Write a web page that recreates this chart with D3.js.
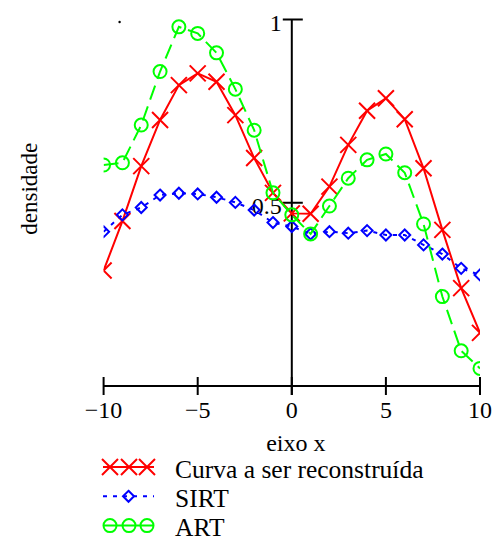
<!DOCTYPE html>
<html>
<head>
<meta charset="utf-8">
<script src="https://cdn.jsdelivr.net/npm/d3@7"></script>
<style>
  html, body { margin: 0; padding: 0; background: #fff; }
  svg { display: block; }
  text { font-family: "Liberation Serif", "Times New Roman", serif; fill: #000; }
</style>
</head>
<body>
<svg id="chart" width="497" height="541"></svg>
<script>
// Sample positions along the x axis
const xs = [-10, -9, -8, -7, -6, -5, -4, -3, -2, -1, 0, 1, 2, 3, 4, 5, 6, 7, 8, 9, 10];

// Original density curve
const curva = [0.315, 0.45, 0.600, 0.726, 0.821, 0.853, 0.830, 0.739, 0.622, 0.527,
               0.471, 0.470, 0.544, 0.658, 0.751, 0.785, 0.728, 0.594, 0.426, 0.267, 0.145];
// SIRT reconstruction
const sirt  = [0.421, 0.467, 0.487, 0.521, 0.526, 0.524, 0.515, 0.501, 0.480, 0.446,
               0.435, 0.415, 0.421, 0.417, 0.424, 0.412, 0.412, 0.385, 0.360, 0.321, 0.303];
// ART reconstruction
const art   = [0.603, 0.609, 0.712, 0.858, 0.980, 0.962, 0.909, 0.810, 0.698, 0.527,
               0.467, 0.415, 0.491, 0.567, 0.617, 0.633, 0.582, 0.442, 0.244, 0.096, 0.048];

const xTicks = [-10, -5, 0, 5, 10];
const yTicks = [0.5, 1];
const legendLabels = ["Curva a ser reconstruída", "SIRT", "ART"];

const svg = d3.select("#chart");
const x = d3.scaleLinear().domain([-10, 10]).range([103.6, 480]);
const y = d3.scaleLinear().domain([0, 1]).range([386, 19.5]);

const series = [
  { name: legendLabels[0], values: curva, color: "#ff0000", dash: null,  marker: "x" },
  { name: legendLabels[1], values: sirt,  color: "#0000ff", dash: "4,6", marker: "diamond" },
  { name: legendLabels[2], values: art,   color: "#00ff00", dash: "15,7", marker: "circle" }
];

function drawMarker(g, type, cx, cy, color) {
  if (type === "x") {
    const s = 8;
    g.append("path")
      .attr("d", `M${cx - s},${cy - s}L${cx + s},${cy + s}M${cx - s},${cy + s}L${cx + s},${cy - s}`)
      .attr("stroke", color).attr("stroke-width", 2).attr("fill", "none");
  } else if (type === "diamond") {
    const s = 5.5;
    g.append("path")
      .attr("d", `M${cx},${cy - s}L${cx + s},${cy}L${cx},${cy + s}L${cx - s},${cy}Z`)
      .attr("stroke", color).attr("stroke-width", 2).attr("fill", "none");
  } else {
    g.append("circle")
      .attr("cx", cx).attr("cy", cy).attr("r", 6.5)
      .attr("stroke", color).attr("stroke-width", 2).attr("fill", "none");
  }
}

// Plot area clip: only the x range is clipped
svg.append("defs").append("clipPath").attr("id", "plotClip")
  .append("rect")
  .attr("x", x(-10)).attr("y", 0)
  .attr("width", x(10) - x(-10)).attr("height", y(0) + 10);

// Axes crossing at the origin
const axes = svg.append("g").attr("stroke", "#000").attr("stroke-width", 2);
axes.append("line").attr("x1", x(-10)).attr("x2", x(10)).attr("y1", y(0)).attr("y2", y(0));
axes.append("line").attr("x1", x(0)).attr("x2", x(0)).attr("y1", y(1)).attr("y2", y(0) + 9);
axes.selectAll(".xt").data(xTicks).enter().append("line")
  .attr("x1", d => x(d)).attr("x2", d => x(d))
  .attr("y1", y(0) - 9).attr("y2", y(0) + 9);
axes.selectAll(".yt").data(yTicks).enter().append("line")
  .attr("x1", x(0) - 9).attr("x2", x(0) + 11)
  .attr("y1", d => y(d)).attr("y2", d => y(d));

const fmt = d => (d < 0 ? "\u2212" + Math.abs(d) : String(d));
svg.selectAll(".xl").data(xTicks).enter().append("text")
  .attr("x", d => x(d)).attr("y", y(0) + 32)
  .attr("text-anchor", "middle").attr("font-size", 24)
  .text(fmt);
svg.selectAll(".yl").data(yTicks).enter().append("text")
  .attr("x", x(0) - 10).attr("y", d => y(d) + 11)
  .attr("text-anchor", "end").attr("font-size", 24)
  .text(d => String(d));

// Series
const plot = svg.append("g").attr("clip-path", "url(#plotClip)");
series.forEach(s => {
  const pts = xs.map((xv, i) => [x(xv), y(s.values[i])]);
  plot.append("path")
    .attr("d", d3.line()(pts))
    .attr("fill", "none").attr("stroke", s.color).attr("stroke-width", 2)
    .attr("stroke-dasharray", s.dash);
  const mg = plot.append("g");
  pts.forEach(p => drawMarker(mg, s.marker, p[0], p[1], s.color));
});

// Small stray annotation dot
svg.append("circle").attr("cx", x(-9.15)).attr("cy", y(0.993)).attr("r", 1.2).attr("fill", "#000");

// Axis titles
svg.append("text").attr("x", x(0) + 4).attr("y", y(0) + 65)
  .attr("text-anchor", "middle").attr("font-size", 24).text("eixo x");
svg.append("text")
  .attr("transform", `translate(37, ${y(0.5) - 14}) rotate(-90)`)
  .attr("text-anchor", "middle").attr("font-size", 23).text("densidade");

// Legend
const legend = svg.append("g");
series.forEach((s, i) => {
  const ly = 467 + i * 29.3;
  legend.append("line").attr("x1", 103).attr("x2", 154).attr("y1", ly).attr("y2", ly)
    .attr("stroke", s.color).attr("stroke-width", 2)
    .attr("stroke-dasharray", s.marker === "diamond" ? s.dash : null);
  const mk = s.marker === "diamond" ? [128.5] : [110, 129, 147];
  mk.forEach(mx => drawMarker(legend, s.marker, mx, ly, s.color));
  legend.append("text").attr("x", 175).attr("y", ly + 10.5).attr("font-size", 25.5).text(s.name);
});
</script>
</body>
</html>
